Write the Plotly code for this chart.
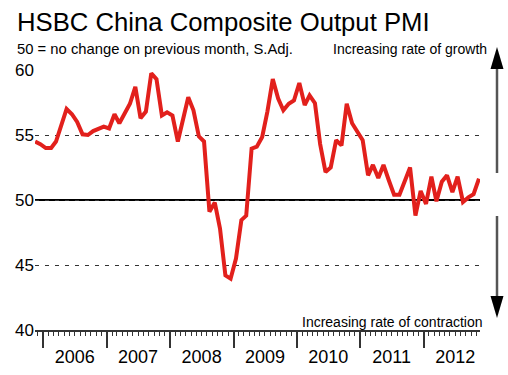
import pandas as pd
import plotly.graph_objects as go

# ---------------- data ----------------
START_MONTH = "2005-11-01"
PMI = [
    54.5, 54.3,                                                        # Nov-Dec 2005
    54.0, 54.0, 54.5, 55.9, 57.0, 56.6, 56.0, 55.05, 55.0, 55.3, 55.5, 55.65,   # 2006
    55.5, 56.6, 55.9, 56.6, 57.4, 58.7, 56.3, 56.8, 59.75, 59.3, 56.5, 56.75,   # 2007
    56.5, 54.5, 56.2, 57.9, 56.9, 54.9, 54.5, 49.1, 49.8, 47.8, 44.2, 43.95,    # 2008
    45.5, 48.45, 48.8, 53.95, 54.1, 54.85, 56.8, 59.3, 57.8, 56.9, 57.4, 57.65, # 2009
    59.0, 57.3, 58.05, 57.45, 54.3, 52.15, 52.5, 54.6, 54.2, 57.4, 55.9, 55.3,  # 2010
    54.6, 51.9, 52.7, 51.7, 52.7, 51.5, 50.4, 50.4, 51.4, 52.5, 48.8, 50.7,     # 2011
    49.7, 51.8, 49.9, 51.4, 51.9, 50.6, 51.8, 49.85, 50.2, 50.45, 51.65,        # 2012
]
YEARS = ["2006", "2007", "2008", "2009", "2010", "2011", "2012"]
Y_TICKS = [40, 45, 50, 55, 60]
Y_TICK_TEXT = ["40", "45", "50", "55", "60"]
REF_LEVEL = 50

TITLE = "HSBC China Composite Output PMI"
SUBTITLE = "50 = no change on previous month, S.Adj."
UP_TEXT = "Increasing rate of growth"
DOWN_TEXT = "Increasing rate of contraction"

# month centres
months = pd.date_range(START_MONTH, periods=len(PMI), freq="MS") + pd.Timedelta(days=14)
year_starts = [f"{y}-01-01" for y in YEARS]
year_mids = [f"{y}-07-01" for y in YEARS]

# ---------------- layout geometry ----------------
W, H = 508, 375
L, R, T, B = 35, 28, 70, 45
PW, PH = W - L - R, H - T - B
FONT = "Liberation Sans, Arial, Helvetica, sans-serif"
RED = "#E2201C"
DARK = "#333333"


def px(x):
    return (x - L) / PW


def py(y):
    return (H - B - y) / PH


x_range = ["2005-11-14", "2012-11-21"]

fig = go.Figure()
fig.add_trace(go.Scatter(
    x=months, y=PMI, mode="lines",
    line=dict(color=RED, width=4), showlegend=False, hoverinfo="x+y",
))
# invisible companion trace so that the label axis is drawn
fig.add_trace(go.Scatter(
    x=months, y=PMI, mode="lines", xaxis="x2", opacity=0,
    line=dict(width=0), showlegend=False, hoverinfo="skip",
))

shapes = [
    dict(type="line", xref="paper", yref="y", x0=0, x1=1, y0=REF_LEVEL, y1=REF_LEVEL,
         line=dict(color="black", width=2), layer="below"),
    # up arrow
    dict(type="line", xref="paper", yref="paper", x0=px(497), x1=px(497), y0=py(68), y1=py(173),
         line=dict(color="#555555", width=2.5)),
    dict(type="path", xref="paper", yref="paper",
         path=f"M{px(497)},{py(47)} L{px(490.5)},{py(69)} L{px(503.5)},{py(69)} Z",
         fillcolor="black", line=dict(width=0)),
    # down arrow
    dict(type="line", xref="paper", yref="paper", x0=px(497), x1=px(497), y0=py(216), y1=py(297),
         line=dict(color="#555555", width=2.5)),
    dict(type="path", xref="paper", yref="paper",
         path=f"M{px(497)},{py(318)} L{px(490.5)},{py(296)} L{px(503.5)},{py(296)} Z",
         fillcolor="black", line=dict(width=0)),
]

annotations = [
    dict(text=TITLE, xref="paper", yref="paper", x=px(15), y=py(22), xanchor="left", yanchor="middle",
         showarrow=False, font=dict(size=25.7, color="black", family=FONT)),
    dict(text=SUBTITLE, xref="paper", yref="paper", x=px(15), y=py(49), xanchor="left", yanchor="middle",
         showarrow=False, font=dict(size=14.8, color="black", family=FONT)),
    dict(text=UP_TEXT, xref="paper", yref="paper", x=px(489), y=py(49), xanchor="right", yanchor="middle",
         showarrow=False, font=dict(size=14, color="black", family=FONT)),
    dict(text=DOWN_TEXT, xref="paper", yref="paper", x=px(485), y=py(322), xanchor="right", yanchor="middle",
         showarrow=False, font=dict(size=14, color="black", family=FONT)),
]

fig.update_layout(
    width=W, height=H, autosize=False,
    margin=dict(l=L, r=R, t=T, b=B, pad=0, autoexpand=False),
    paper_bgcolor="white", plot_bgcolor="white",
    font=dict(family=FONT, color="black"),
    showlegend=False,
    shapes=shapes, annotations=annotations,
    xaxis=dict(
        type="date", range=x_range, tickmode="array", tickvals=year_starts,
        showticklabels=False, ticks="outside", ticklen=16, tickwidth=1.5, tickcolor=DARK,
        showline=True, linecolor=DARK, linewidth=2, showgrid=False, zeroline=False,
        minor=dict(ticks="outside", ticklen=4, tickwidth=1, tickcolor=DARK,
                   tickmode="linear", tick0="2005-12-01", dtick="M1", showgrid=False),
        fixedrange=True, automargin=False,
    ),
    xaxis2=dict(
        type="date", range=x_range, overlaying="x", anchor="y", side="bottom",
        tickmode="array", tickvals=year_mids, ticktext=YEARS,
        ticks="outside", ticklen=10, tickcolor="rgba(0,0,0,0)",
        showline=False, showgrid=False, zeroline=False,
        tickfont=dict(size=18, color="black", family=FONT), fixedrange=True, automargin=False,
    ),
    yaxis=dict(
        range=[40, 60], tickmode="array", tickvals=Y_TICKS, ticktext=Y_TICK_TEXT,
        showgrid=True, gridcolor=DARK, gridwidth=1, griddash="4px,6px",
        ticks="", showline=False, zeroline=False,
        tickfont=dict(size=17, color="black", family=FONT), fixedrange=True, automargin=False,
    ),
)

fig.write_html(
    "out.html",
    config={"displayModeBar": False},
    post_script="document.body.style.margin='0';document.body.style.padding='0';",
)
